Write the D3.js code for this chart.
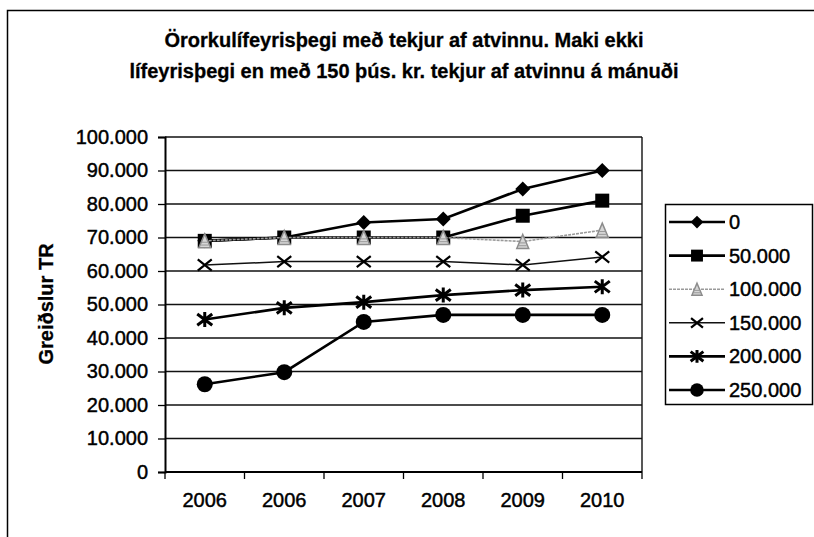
<!DOCTYPE html>
<html>
<head>
<meta charset="utf-8">
<script src="https://cdn.jsdelivr.net/npm/d3@7"></script>
<style>
  body{margin:0;background:#fff;}
  svg{display:block;font-family:"Liberation Sans",Arial,sans-serif;}
  text{fill:#000;stroke:#000;stroke-width:0.45px;}
</style>
</head>
<body>
<div id="graphHolder"></div>
<script>
// categories (the first year really is 2006 twice in the source)
const categories = ['2006','2006','2007','2008','2009','2010']
const seriesNames = ['0','50.000','100.000','150.000','200.000','250.000']
const s0 = [69000,70000,74500,75500,84500,90000]
const s50 = [69000,70000,70000,70000,76500,81000]
const s100 = [69000,70000,70000,70000,68800,72200]
const s150 = [61800,62800,62800,62800,61800,64200]
const s200 = [45500,49000,50700,52800,54300,55300]
const s250 = [26200,29800,44800,46900,46900,46900]
const yTicks = [0,10000,20000,30000,40000,50000,60000,70000,80000,90000,100000]
const titleLines = ['Örorkulífeyrisþegi með tekjur af atvinnu. Maki ekki',
	'lífeyrisþegi en með 150 þús. kr. tekjur af atvinnu á mánuði']
const yLabel = 'Greiðslur TR'

const width = 814,height = 537
const seriesValues = [s0,s50,s100,s150,s200,s250]
// line + marker style per series
const styles = [
	{stroke:'#000',sw:2.6,dash:null,marker:'diamond',size:15},
	{stroke:'#000',sw:2.6,dash:null,marker:'square',size:14},
	{stroke:'#9a9a9a',sw:1.6,dash:'3,1',marker:'triangle',size:14},
	{stroke:'#111',sw:1.5,dash:null,marker:'cross',size:14},
	{stroke:'#000',sw:2.6,dash:null,marker:'asterisk',size:15},
	{stroke:'#000',sw:2.6,dash:null,marker:'circle',size:16}
]

const locale = d3.formatLocale({decimal:',',thousands:'.',grouping:[3],currency:['','']})
const fmt = locale.format(',')

const svg = d3.select('#graphHolder').append('svg')
	.attr('width',width)
	.attr('height',height)

//outer chart frame (runs off the right and bottom edges)
svg.append('rect')
	.attr('x',7.5).attr('y',10.5)
	.attr('width',850).attr('height',600)
	.attr('fill','none').attr('stroke','#000').attr('stroke-width',1.5)

svg.selectAll('text.title').data(titleLines).enter().append('text')
	.attr('class','title')
	.attr('x',404)
	.attr('y',function(d,i){return 47 + i*31})
	.attr('text-anchor','middle')
	.style('font-size','20px')
	.style('font-weight','bold')
	.style('stroke-width','0.3px')
	.text(function(d){return d})

const plot = {left:165,right:642,top:137,bottom:472}
const x = d3.scaleBand().domain(d3.range(categories.length)).range([plot.left,plot.right])
const y = d3.scaleLinear().domain([0,100000]).range([plot.bottom,plot.top])

//gridlines
svg.append('g').selectAll('line').data(yTicks).enter().append('line')
	.attr('x1',plot.left).attr('x2',plot.right)
	.attr('y1',function(d){return y(d)}).attr('y2',function(d){return y(d)})
	.attr('stroke','#111').attr('stroke-width',1.3)

//plot area right border
svg.append('line')
	.attr('x1',plot.right).attr('x2',plot.right)
	.attr('y1',plot.top).attr('y2',plot.bottom)
	.attr('stroke','#111').attr('stroke-width',1.4)

//y axis
const yAxis = svg.append('g')
	.attr('transform',`translate(${plot.left},0)`)
	.call(d3.axisLeft(y).tickValues(yTicks).tickFormat(fmt).tickSize(7).tickPadding(10))
yAxis.select('.domain').attr('stroke','#000').attr('stroke-width',2)
yAxis.selectAll('.tick line').attr('stroke','#000').attr('stroke-width',1.3)
yAxis.selectAll('text')
	.attr('fill','#000')
	.style('font-size','20px')
	.style('font-family','"Liberation Sans",Arial,sans-serif')

//x axis, ticks between categories
const bounds = d3.range(categories.length + 1).map(function(i){return plot.left + i*x.step()})
const xAxis = svg.append('g')
svg.append('line')
	.attr('x1',plot.left).attr('x2',plot.right)
	.attr('y1',plot.bottom).attr('y2',plot.bottom)
	.attr('stroke','#000').attr('stroke-width',2)
xAxis.selectAll('line').data(bounds).enter().append('line')
	.attr('x1',function(d){return d}).attr('x2',function(d){return d})
	.attr('y1',plot.bottom).attr('y2',plot.bottom + 7)
	.attr('stroke','#000').attr('stroke-width',1.3)
xAxis.selectAll('text').data(categories).enter().append('text')
	.attr('x',function(d,i){return x(i) + x.bandwidth()/2})
	.attr('y',507)
	.attr('text-anchor','middle')
	.style('font-size','20px')
	.text(function(d){return d})

svg.append('text')
	.attr('transform','translate(48,304) rotate(-90)')
	.attr('text-anchor','middle')
	.attr('dominant-baseline','middle')
	.style('font-size','20px')
	.style('font-weight','bold')
	.style('stroke-width','0.3px')
	.text(yLabel)

//draw a marker of a given kind centered at 0,0
function drawMarker(g,st,scale){
	const s = st.size*scale,h = s/2
	if(st.marker === 'diamond'){
		g.append('path').attr('d',`M0,${-h}L${h},0L0,${h}L${-h},0Z`).attr('fill','#000')
	}else if(st.marker === 'square'){
		g.append('rect').attr('x',-h).attr('y',-h).attr('width',s).attr('height',s).attr('fill','#000')
	}else if(st.marker === 'triangle'){
		g.append('path').attr('d',`M0,${-h}L${h*0.85},${h}L${-h*0.85},${h}Z`)
			.attr('fill','#d6d6d6').attr('stroke','#8c8c8c').attr('stroke-width',1.5)
		g.append('path').attr('d',`M${-h*0.4},${h*0.2}L${h*0.4},${h*0.2}M${-h*0.55},${h*0.6}L${h*0.55},${h*0.6}`)
			.attr('stroke','#999').attr('stroke-width',1)
	}else if(st.marker === 'cross'){
		g.append('path').attr('d',`M${-h},${-h*0.8}L${h},${h*0.8}M${-h},${h*0.8}L${h},${-h*0.8}`)
			.attr('stroke','#000').attr('stroke-width',2.2)
	}else if(st.marker === 'asterisk'){
		g.append('path').attr('d',`M${-h},${-h*0.75}L${h},${h*0.75}M${-h},${h*0.75}L${h},${-h*0.75}M0,${-h}L0,${h}`)
			.attr('stroke','#000').attr('stroke-width',3)
	}else if(st.marker === 'circle'){
		g.append('circle').attr('r',h).attr('fill','#000')
	}
}

const line = d3.line()
	.x(function(d,i){return x(i) + x.bandwidth()/2})
	.y(function(d){return y(d)})

seriesValues.forEach(function(vals,si){
	const st = styles[si]
	const g = svg.append('g')
	g.append('path')
		.attr('d',line(vals))
		.attr('fill','none')
		.attr('stroke',st.stroke)
		.attr('stroke-width',st.sw)
		.attr('stroke-dasharray',st.dash)
	vals.forEach(function(v,i){
		const m = g.append('g').attr('transform',`translate(${x(i) + x.bandwidth()/2},${y(v)})`)
		drawMarker(m,st,1)
	})
})

//legend
const legend = svg.append('g')
legend.append('rect')
	.attr('x',665.5).attr('y',204.5)
	.attr('width',147).attr('height',200)
	.attr('fill','#fff').attr('stroke','#000').attr('stroke-width',1.5)
seriesNames.forEach(function(name,i){
	const st = styles[i]
	const ly = 222 + i*33.6
	const row = legend.append('g').attr('transform',`translate(0,${ly})`)
	row.append('line')
		.attr('x1',669).attr('x2',725)
		.attr('stroke',st.stroke).attr('stroke-width',st.sw)
		.attr('stroke-dasharray',st.dash)
	drawMarker(row.append('g').attr('transform','translate(697,0)'),st,0.85)
	row.append('text')
		.attr('x',729)
		.attr('dominant-baseline','central')
		.style('font-size','20px')
		.text(name)
})
</script>
</body>
</html>
